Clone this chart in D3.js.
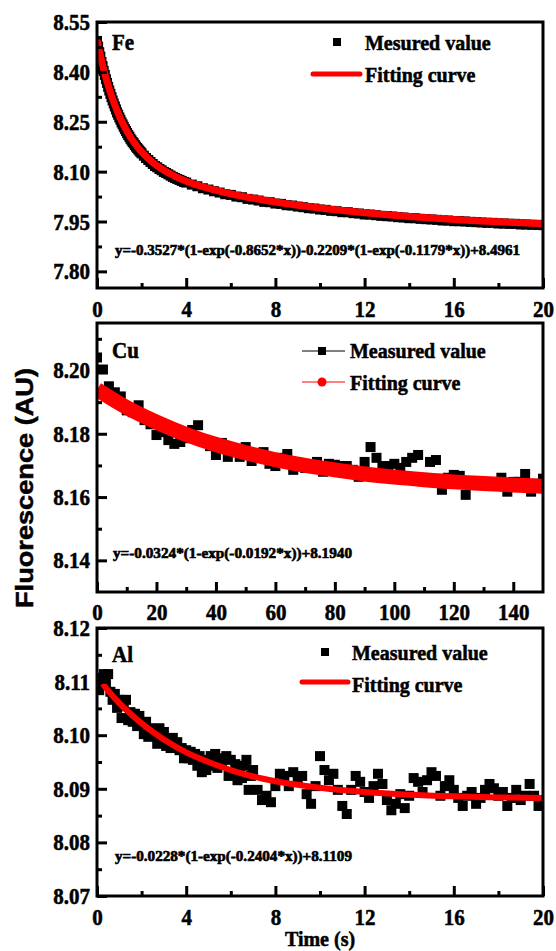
<!DOCTYPE html>
<html>
<head>
<meta charset="utf-8">
<script src="https://cdn.jsdelivr.net/npm/d3@7"></script>
<style>
html, body { margin: 0; padding: 0; background: #fff; }
svg { display: block; }
text { font-family: "Liberation Serif", "Times New Roman", serif; font-weight: bold; fill: #000; stroke: #000; stroke-width: 0.5px; }
</style>
</head>
<body>
<script>
// ---- Fe panel data ----
const feTime = [0, 0.05, 0.1, 0.15, 0.2, 0.25, 0.3, 0.35, 0.4, 0.45, 0.5, 0.55, 0.6,
  0.65, 0.7, 0.75, 0.8, 0.85, 0.9, 0.95, 1.0, 1.05, 1.1, 1.15, 1.2, 1.25, 1.3, 1.35, 1.4, 1.45, 1.5,
  1.55, 1.6, 1.65, 1.7, 1.75, 1.8, 1.85, 1.9, 1.95, 2.0,
  2.1, 2.2, 2.3, 2.4, 2.5, 2.6, 2.7, 2.8, 2.9, 3.0, 3.1, 3.2, 3.3, 3.4, 3.5, 3.6, 3.7, 3.8, 3.9, 4.0,
  4.25, 4.5, 4.75, 5, 5.25, 5.5, 5.75, 6, 6.25, 6.5, 6.75, 7, 7.25, 7.5, 7.75, 8,
  8.25, 8.5, 8.75, 9, 9.25, 9.5, 9.75, 10, 10.25, 10.5, 10.75, 11, 11.25, 11.5, 11.75, 12,
  12.25, 12.5, 12.75, 13, 13.25, 13.5, 13.75, 14, 14.25, 14.5, 14.75, 15, 15.25, 15.5, 15.75, 16,
  16.25, 16.5, 16.75, 17, 17.25, 17.5, 17.75, 18, 18.25, 18.5, 18.75, 19, 19.25, 19.5, 19.75, 20];
const feValue = [8.493, 8.476, 8.459, 8.446, 8.430, 8.417, 8.403, 8.391, 8.378, 8.367, 8.355, 8.344, 8.334,
  8.324, 8.314, 8.305, 8.296, 8.287, 8.278, 8.271, 8.263, 8.256, 8.248, 8.242, 8.235, 8.228, 8.222, 8.216, 8.210, 8.205, 8.199,
  8.194, 8.189, 8.185, 8.180, 8.175, 8.171, 8.167, 8.163, 8.159, 8.155,
  8.148, 8.141, 8.135, 8.129, 8.123, 8.117, 8.113, 8.108, 8.104, 8.099, 8.096, 8.092, 8.088, 8.084, 8.081, 8.078, 8.075, 8.072, 8.069, 8.067,
  8.061, 8.056, 8.050, 8.046, 8.041, 8.037, 8.032, 8.030, 8.025, 8.023, 8.018, 8.016, 8.013, 8.009, 8.008, 8.004,
  8.003, 7.999, 7.998, 7.995, 7.993, 7.990, 7.989, 7.986, 7.985, 7.982, 7.981, 7.978, 7.978, 7.975, 7.974, 7.971,
  7.971, 7.969, 7.967, 7.966, 7.965, 7.963, 7.962, 7.960, 7.960, 7.958, 7.957, 7.956, 7.955, 7.953, 7.953, 7.951,
  7.951, 7.950, 7.949, 7.948, 7.947, 7.946, 7.946, 7.944, 7.944, 7.943, 7.943, 7.941, 7.941, 7.940, 7.940, 7.939];
const feFitTime = [0, 0.1, 0.2, 0.3, 0.4, 0.5, 0.6, 0.8, 1, 1.25, 1.5, 1.75, 2, 2.5, 3, 3.5, 4, 5, 6, 7, 8, 9, 10, 11, 12, 13, 14, 15, 16, 17, 18, 19, 20];
const feFitValue = [8.4961, 8.4643, 8.4349, 8.4078, 8.3828, 8.3596, 8.3382, 8.3001, 8.2673, 8.2327, 8.2039, 8.1798, 8.1595, 8.1276, 8.1039, 8.0858, 8.0714, 8.0497, 8.0333, 8.0201, 8.0088, 7.9991, 7.9904, 7.9829, 7.9762, 7.9702, 7.9649, 7.9602, 7.9560, 7.9523, 7.9489, 7.9460, 7.9434];
const feXTicks = [0, 4, 8, 12, 16, 20];
const feXMinor = [2, 6, 10, 14, 18];
const feYTicks = [7.80, 7.95, 8.10, 8.25, 8.40, 8.55];
const feYMinor = [7.875, 8.025, 8.175, 8.325, 8.475];

// ---- Cu panel data ----
const cuTime = [0, 2, 4, 6, 8, 10, 12, 14, 16, 18, 20, 22, 24, 26, 28, 30, 32, 34, 36, 38, 40, 42, 44, 46, 48, 50,
  52, 54, 56, 58, 60, 62, 64, 66, 68, 70, 72, 74, 76, 78, 80, 82, 84, 86, 88, 90, 92, 94, 96, 98, 100,
  102, 104, 106, 108, 110, 112, 114, 116, 118, 120, 122, 124, 126, 128, 130, 132, 134, 136, 138, 140, 142, 144, 146, 148, 150];
const cuValue = [8.2041, 8.2003, 8.1950, 8.1931, 8.1918, 8.1874, 8.1868, 8.1890, 8.1843, 8.1830, 8.1796, 8.1805, 8.1780, 8.1768, 8.1774, 8.1786, 8.1812, 8.1827, 8.1780, 8.1761, 8.1733, 8.1771, 8.1727, 8.1742, 8.1727, 8.1758,
  8.1714, 8.1730, 8.1742, 8.1705, 8.1698, 8.1724, 8.1736, 8.1686, 8.1705, 8.1692, 8.1698, 8.1711, 8.1680, 8.1705, 8.1702, 8.1698, 8.1698, 8.1686, 8.1664, 8.1711, 8.1758, 8.1724, 8.1698, 8.1698, 8.1705,
  8.1692, 8.1711, 8.1724, 8.1733, 8.1654, 8.1711, 8.1717, 8.1623, 8.1661, 8.1670, 8.1667, 8.1607, 8.1642, 8.1642, 8.1648, 8.1642, 8.1636, 8.1661, 8.1617, 8.1648, 8.1648, 8.1673, 8.1617, 8.1642, 8.1658];
const cuFitTime = [0, 10, 20, 30, 40, 50, 60, 70, 80, 90, 100, 110, 120, 130, 140, 150];
const cuFitValue = [8.1940, 8.1883, 8.1837, 8.1798, 8.1766, 8.1740, 8.1718, 8.1700, 8.1686, 8.1673, 8.1663, 8.1655, 8.1648, 8.1643, 8.1638, 8.1634];
const cuXTicks = [0, 20, 40, 60, 80, 100, 120, 140];
const cuXMinor = [10, 30, 50, 70, 90, 110, 130];
const cuYTicks = [8.14, 8.16, 8.18, 8.20];
const cuYMinor = [8.15, 8.17, 8.19, 8.21];

// ---- Al panel data ----
const alTime = [0, 0.1, 0.2, 0.3, 0.4, 0.5, 0.6, 0.7, 0.8, 0.9, 1.0, 1.1, 1.2, 1.3, 1.4, 1.5, 1.6, 1.7, 1.8, 1.9, 2.0,
  2.1, 2.2, 2.3, 2.4, 2.5, 2.6, 2.7, 2.8, 2.9, 3.0, 3.1, 3.2, 3.3, 3.4, 3.5, 3.6, 3.7, 3.8, 3.9, 4.0,
  4.1, 4.2, 4.3, 4.4, 4.5, 4.6, 4.7, 4.8, 4.9, 5.0, 5.1, 5.2, 5.3, 5.4, 5.5, 5.6, 5.7, 5.8, 5.9, 6.0,
  6.1, 6.2, 6.3, 6.4, 6.5, 6.6, 6.7, 6.8, 6.9, 7.0,
  7.2, 7.4, 7.6, 7.8, 8.0, 8.2, 8.4, 8.6, 8.8, 9.0, 9.2, 9.4, 9.6, 9.8, 10.0, 10.2, 10.4, 10.6, 10.8, 11.0, 11.2, 11.4, 11.6, 11.8, 12.0,
  12.2, 12.4, 12.6, 12.8, 13.0, 13.2, 13.4, 13.6, 13.8, 14.0, 14.2, 14.4, 14.6, 14.8, 15.0, 15.2, 15.4, 15.6, 15.8, 16.0,
  16.2, 16.4, 16.6, 16.8, 17.0, 17.2, 17.4, 17.6, 17.8, 18.0, 18.2, 18.4, 18.6, 18.8, 19.0, 19.2, 19.4, 19.6, 19.8, 20.0];
const alValue = [8.1094, 8.1084, 8.1107, 8.1114, 8.1099, 8.1114, 8.1081, 8.1066, 8.1077, 8.1051, 8.1066, 8.1032, 8.1054, 8.1066, 8.1028, 8.1043, 8.1025, 8.1040, 8.1017, 8.1036, 8.1021,
  8.1002, 8.1025, 8.0997, 8.1013, 8.0999, 8.1010, 8.0984, 8.1013, 8.0991, 8.1006, 8.0980, 8.0991, 8.0976, 8.0995, 8.0980, 8.0987, 8.0972, 8.0976, 8.0957, 8.0972,
  8.0957, 8.0969, 8.0954, 8.0965, 8.0943, 8.0961, 8.0931, 8.0950, 8.0935, 8.0954, 8.0961, 8.0943, 8.0965, 8.0939, 8.0954, 8.0946, 8.0957, 8.0961, 8.0924, 8.0954,
  8.0931, 8.0946, 8.0916, 8.0935, 8.0920, 8.0943, 8.0954, 8.0898, 8.0924, 8.0935,
  8.0898, 8.0879, 8.0887, 8.0875, 8.0905, 8.0928, 8.0924, 8.0905, 8.0931, 8.0920, 8.0924, 8.0890, 8.0872, 8.0905, 8.0961, 8.0935, 8.0916, 8.0928, 8.0898, 8.0868, 8.0853, 8.0898, 8.0924, 8.0913, 8.0894,
  8.0883, 8.0905, 8.0928, 8.0909, 8.0879, 8.0860, 8.0872, 8.0890, 8.0864, 8.0887, 8.0920, 8.0913, 8.0894, 8.0916, 8.0931, 8.0924, 8.0887, 8.0905, 8.0916, 8.0898,
  8.0883, 8.0868, 8.0887, 8.0894, 8.0872, 8.0883, 8.0898, 8.0909, 8.0901, 8.0887, 8.0894, 8.0868, 8.0883, 8.0898, 8.0879, 8.0887, 8.0909, 8.0887, 8.0868, 8.0879];
const alFitTime = [0.25, 0.5, 1, 1.5, 2, 3, 4, 5, 6, 7, 8, 10, 12, 14, 16, 18, 20];
const alFitValue = [8.1096, 8.1083, 8.1060, 8.1040, 8.1022, 8.0992, 8.0968, 8.0950, 8.0935, 8.0923, 8.0914, 8.0902, 8.0894, 8.0889, 8.0886, 8.0884, 8.0883];
const alXTicks = [0, 4, 8, 12, 16, 20];
const alXMinor = [2, 6, 10, 14, 18];
const alYTicks = [8.07, 8.08, 8.09, 8.10, 8.11, 8.12];
const alYMinor = [8.075, 8.085, 8.095, 8.105, 8.115];

const width = 556, height = 951;
const plotLeft = 97, plotRight = 543;
const stretch = 1.1;

let svg = d3.select('body')
  .append('svg')
  .attr('width', width)
  .attr('height', height);

function label(x, y, str, size) {
  return svg.append('text')
    .attr('transform', `translate(${x},${y}) scale(1,${stretch})`)
    .attr('font-size', size)
    .text(str);
}

// frame, axes and ticks of one panel
function panel(p) {
  let x = d3.scaleLinear().domain(p.xDomain).range([plotLeft, plotRight]);
  let y = d3.scaleLinear().domain(p.yDomain).range([p.bottom, p.top]);
  let g = svg.append('g');

  g.append('clipPath').attr('id', 'clip' + p.name)
    .append('rect')
    .attr('x', plotLeft).attr('y', p.top)
    .attr('width', plotRight - plotLeft).attr('height', p.bottom - p.top);
  let plot = g.append('g').attr('clip-path', `url(#clip${p.name})`);

  // minor ticks
  let gxm = g.append('g').attr('transform', `translate(0,${p.bottom})`)
    .call(d3.axisBottom(x).tickValues(p.xMinor).tickSize(-5).tickFormat(''));
  let gym = g.append('g').attr('transform', `translate(${plotLeft},0)`)
    .call(d3.axisLeft(y).tickValues(p.yMinor).tickSize(-5).tickFormat(''));

  // major ticks + labels
  let gx = g.append('g').attr('transform', `translate(0,${p.bottom})`)
    .call(d3.axisBottom(x).tickValues(p.xTicks).tickSize(-10).tickFormat(d3.format('d')));
  gx.selectAll('text')
    .attr('y', null).attr('dy', null)
    .attr('transform', `translate(0,${p.xLabelOffset}) scale(1,${stretch})`);

  let gy = g.append('g').attr('transform', `translate(${plotLeft},0)`)
    .call(d3.axisLeft(y).tickValues(p.yTicks).tickSize(-10).tickFormat(d3.format('.2f')));
  gy.selectAll('text')
    .attr('x', null).attr('dy', null)
    .attr('transform', `translate(-7,7.5) scale(1,${stretch})`);

  [gxm, gym, gx, gy].forEach(a => {
    a.attr('font-size', null).attr('font-family', null);
    a.select('.domain').remove();
    a.selectAll('line').attr('stroke-width', 3);
    a.selectAll('text').attr('font-size', 21);
  });

  g.append('rect')
    .attr('x', plotLeft).attr('y', p.top)
    .attr('width', plotRight - plotLeft).attr('height', p.bottom - p.top)
    .attr('fill', 'none').attr('stroke', '#000').attr('stroke-width', 3);

  return { x, y, plot };
}

function squares(plot, x, y, times, values, size) {
  plot.selectAll(null)
    .data(d3.zip(times, values))
    .enter()
    .append('rect')
    .attr('x', d => x(d[0]) - size / 2)
    .attr('y', d => y(d[1]) - size / 2)
    .attr('width', size)
    .attr('height', size)
    .attr('fill', '#000');
}

function curve(plot, x, y, times, values, color, w) {
  plot.append('path')
    .datum(d3.zip(times, values))
    .attr('fill', 'none')
    .attr('stroke', color)
    .attr('stroke-width', w)
    .attr('stroke-linejoin', 'round')
    .attr('d', d3.line().x(d => x(d[0])).y(d => y(d[1])).curve(d3.curveMonotoneX));
}

// Fe
let fe = panel({ name: 'Fe', top: 22, bottom: 288, xDomain: [0, 20], yDomain: [7.75, 8.55],
  xTicks: feXTicks, xMinor: feXMinor, yTicks: feYTicks, yMinor: feYMinor, xLabelOffset: 29 });
squares(fe.plot, fe.x, fe.y, feTime, feValue, 10);
curve(fe.plot, fe.x, fe.y, feFitTime, feFitValue, '#ff0000', 7);

// Cu
let cu = panel({ name: 'Cu', top: 323, bottom: 592, xDomain: [0, 150], yDomain: [8.13, 8.215],
  xTicks: cuXTicks, xMinor: cuXMinor, yTicks: cuYTicks, yMinor: cuYMinor, xLabelOffset: 28 });
squares(cu.plot, cu.x, cu.y, cuTime, cuValue, 10);
curve(cu.plot, cu.x, cu.y, cuFitTime, cuFitValue, '#ff0000', 15);

// Al
let al = panel({ name: 'Al', top: 628, bottom: 896, xDomain: [0, 20], yDomain: [8.07, 8.12],
  xTicks: alXTicks, xMinor: alXMinor, yTicks: alYTicks, yMinor: alYMinor, xLabelOffset: 29 });
squares(al.plot, al.x, al.y, alTime, alValue, 10);
curve(al.plot, al.x, al.y, alFitTime, alFitValue, '#ff0000', 6);

// panel names
label(112, 50, 'Fe', 21);
label(112, 358, 'Cu', 21);
label(112, 662, 'Al', 21);

// legends
svg.append('rect').attr('x', 333).attr('y', 38).attr('width', 8).attr('height', 8).attr('fill', '#000');
label(365, 50, 'Mesured value', 20);
svg.append('line').attr('x1', 313).attr('x2', 360).attr('y1', 74).attr('y2', 74)
  .attr('stroke', '#ff0000').attr('stroke-width', 5).attr('stroke-linecap', 'round');
label(365, 82, 'Fitting curve', 20);

svg.append('line').attr('x1', 302).attr('x2', 345).attr('y1', 351).attr('y2', 351).attr('stroke', '#000').attr('stroke-width', 1);
svg.append('rect').attr('x', 318).attr('y', 347).attr('width', 8).attr('height', 8).attr('fill', '#000');
label(350, 358, 'Measured value', 20);
svg.append('line').attr('x1', 302).attr('x2', 345).attr('y1', 382).attr('y2', 382).attr('stroke', '#ff0000').attr('stroke-width', 1);
svg.append('circle').attr('cx', 322).attr('cy', 382).attr('r', 4.5).attr('fill', '#ff0000');
label(350, 390, 'Fitting curve', 20);

svg.append('rect').attr('x', 321).attr('y', 648).attr('width', 8).attr('height', 8).attr('fill', '#000');
label(352, 660, 'Measured value', 20);
svg.append('line').attr('x1', 302).attr('x2', 348).attr('y1', 682).attr('y2', 682)
  .attr('stroke', '#ff0000').attr('stroke-width', 5).attr('stroke-linecap', 'round');
label(352, 692, 'Fitting curve', 20);

// fitted equations
label(115, 255, 'y=-0.3527*(1-exp(-0.8652*x))-0.2209*(1-exp(-0.1179*x))+8.4961', 14)
  .attr('textLength', 405).attr('lengthAdjust', 'spacingAndGlyphs').style('stroke-width', '0.6px');
label(113, 558, 'y=-0.0324*(1-exp(-0.0192*x))+8.1940', 14)
  .attr('textLength', 239).attr('lengthAdjust', 'spacingAndGlyphs').style('stroke-width', '0.6px');
label(115, 861, 'y=-0.0228*(1-exp(-0.2404*x))+8.1109', 14)
  .attr('textLength', 237).attr('lengthAdjust', 'spacingAndGlyphs').style('stroke-width', '0.6px');

// axis titles
label(320, 946, 'Time (s)', 20).attr('text-anchor', 'middle');
svg.append('text')
  .attr('transform', 'translate(33,488) rotate(-90)')
  .attr('text-anchor', 'middle')
  .style('font-family', '"Liberation Sans", Arial, sans-serif')
  .attr('font-size', 24)
  .attr('textLength', 240)
  .attr('lengthAdjust', 'spacingAndGlyphs')
  .text('Fluorescence (AU)');
</script>
</body>
</html>
